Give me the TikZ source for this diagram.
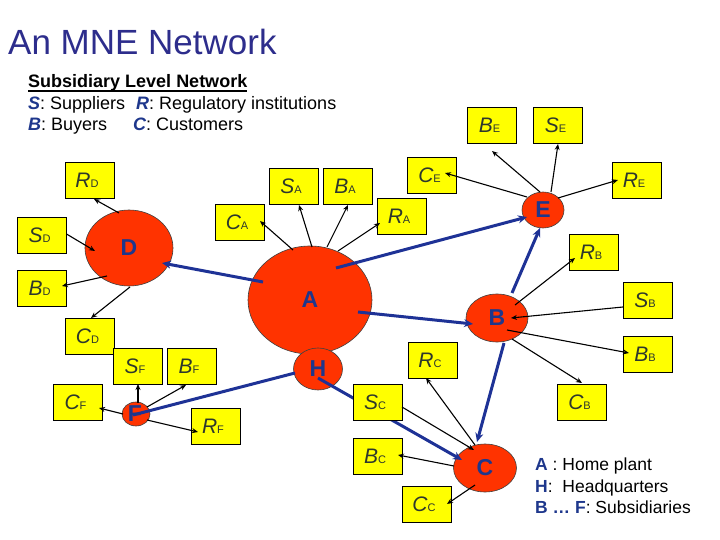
\documentclass[tikz,border=0pt]{standalone}
\usepackage{fontspec}
\setmainfont{Liberation Sans}
\usetikzlibrary{arrows.meta,calc,shapes.geometric}
\definecolor{titleblue}{RGB}{45,45,140}
\definecolor{lblue}{RGB}{30,55,140}
\definecolor{arrblue}{RGB}{30,50,150}
\definecolor{boxyel}{RGB}{255,255,0}
\definecolor{subred}{RGB}{255,51,0}
\definecolor{boxtxt}{RGB}{45,55,45}
\newcommand{\bxl}[2]{{\fontsize{21}{21}\selectfont\itshape #1}{\fontsize{11}{11}\selectfont #2}\kern5pt}
\tikzset{
  lbox/.style={draw=black, line width=0.8pt, fill=boxyel, minimum width=49pt, minimum height=36pt, inner sep=0pt, text=boxtxt},
  subs/.style={ellipse, draw=black!75, line width=0.6pt, fill=subred, inner sep=0pt, font=\fontsize{23}{23}\selectfont\bfseries, text=lblue},
  subtxt/.style={inner sep=0pt, font=\fontsize{23}{23}\selectfont\bfseries, text=lblue},
  blk/.style={draw=black, line width=1.1pt, -{Stealth[length=6pt,width=5pt]}},
  blu/.style={draw=arrblue, line width=3pt, -{Stealth[length=9pt,width=8pt]}},
  bluline/.style={draw=arrblue, line width=3pt},
  txt/.style={anchor=base west, inner sep=0pt, font=\fontsize{18}{18}\selectfont},
  lgd/.style={anchor=base west, inner sep=0pt, font=\fontsize{17.5}{18}\selectfont}
}
\begin{document}
\begin{tikzpicture}[x=1pt,y=-1pt]
\useasboundingbox (0,0) rectangle (720,540);
% title and header
\node[anchor=base west, inner sep=0pt, font=\fontsize{35}{35}\selectfont, text=titleblue] (title) at (8,55) {An MNE Network};
\node[txt, font=\fontsize{18}{18}\selectfont\bfseries] (st1) at (28,88) {Subsidiary Level Network};
\draw[line width=1.2pt] ($(st1.base west)+(0,3)$) -- ($(st1.base east)+(0,3)$);
\node[txt] (s2a) at (28,110) {\textcolor{lblue}{\bfseries\itshape S}: Suppliers};
\node[txt] (s2b) at (136,110) {\textcolor{lblue}{\bfseries\itshape R}: Regulatory institutions};
\node[txt] (s3a) at (28,131) {\textcolor{lblue}{\bfseries\itshape B}: Buyers};
\node[txt] (s3b) at (133,131) {\textcolor{lblue}{\bfseries\itshape C}: Customers};
% legend
\node[lgd] (lg1) at (535,470) {\textcolor{lblue}{\bfseries A} : Home plant};
\node[lgd] (lg2) at (535,492) {\textcolor{lblue}{\bfseries H}:\ \ Headquarters};
\node[lgd] (lg3) at (535,513) {\textcolor{lblue}{\bfseries B … F}: Subsidiaries};
% subsidiaries
\node[subs, minimum width=124pt, minimum height=108pt] (A) at (310,300) {A};
\node[subs, minimum width=49pt, minimum height=42pt] (H) at (318,369) {};
\node[subs, minimum width=88pt, minimum height=76pt] (D) at (129,248) {D};
\node[subs, minimum width=42pt, minimum height=36pt] (E) at (543,210) {E};
\node[subs, minimum width=62pt, minimum height=48pt] (B) at (497,318) {B};
\node[subs, minimum width=63pt, minimum height=48pt] (C) at (485,468) {C};
\node[subs, minimum width=28pt, minimum height=24pt] (F) at (136,414) {};
% blue links
\draw[blu] ($(A)+(-47,-18)$) -- ($(D)+(33,15)$);
\draw[blu] ($(A)+(26,-32)$) -- ($(E)+(-16,7)$);
\draw[blu] ($(A)+(48,12)$) -- ($(B)+(-24,6)$);
\draw[blu] ($(B)+(15,-25)$) -- ($(E)+(-3,18)$);
\draw[blu] ($(B)+(7,25)$) -- ($(C)+(-8,-26)$);
\draw[bluline] ($(H)+(-23,4)$) -- ($(F)+(-3,1)$);
\draw[blu] ($(H)+(0,9)$) -- ($(C)+(-23,-8)$);
\node[subtxt] (Htxt) at (318,369) {H};
\node[subtxt] (Ftxt) at (135,414) {F};
% boxes
\node[lbox] (RD) at (89.5,180) {\bxl{R}{D}};
\node[lbox] (SD) at (42,235) {\bxl{S}{D}};
\node[lbox] (BD) at (42,288.5) {\bxl{B}{D}};
\node[lbox] (CD) at (90,336) {\bxl{C}{D}};
\node[lbox] (SF) at (137.5,366) {\bxl{S}{F}};
\node[lbox] (BF) at (191.5,366) {\bxl{B}{F}};
\node[lbox] (CF) at (78,402) {\bxl{C}{F}};
\node[lbox] (RF) at (215.5,426) {\bxl{R}{F}};
\node[lbox] (CA) at (239.5,222) {\bxl{C}{A}};
\node[lbox] (SA) at (293.5,186) {\bxl{S}{A}};
\node[lbox] (BA) at (347.5,186) {\bxl{B}{A}};
\node[lbox] (RA) at (401.5,216) {\bxl{R}{A}};
\node[lbox] (CE) at (432,175) {\bxl{C}{E}};
\node[lbox] (BE) at (492,125) {\bxl{B}{E}};
\node[lbox] (SE) at (558,125) {\bxl{S}{E}};
\node[lbox] (RE) at (636.5,180) {\bxl{R}{E}};
\node[lbox] (RB) at (593.5,252) {\bxl{R}{B}};
\node[lbox] (SB) at (647.5,300) {\bxl{S}{B}};
\node[lbox] (BB) at (647.5,354.5) {\bxl{B}{B}};
\node[lbox] (CB) at (582,402) {\bxl{C}{B}};
\node[lbox] (RC) at (432.5,360) {\bxl{R}{C}};
\node[lbox] (SC) at (377.5,402) {\bxl{S}{C}};
\node[lbox] (BC) at (377.5,456) {\bxl{B}{C}};
\node[lbox] (CC) at (426.5,504) {\bxl{C}{C}};
% black links
\draw[blk] ($(D)+(-10,-35)$) -- ($(RD)+(4.5,19)$);
\draw[blk] ($(SD)+(24.5,-1)$) -- ($(D)+(-34,3)$);
\draw[blk] ($(D)+(-22,28)$) -- ($(BD)+(20,-2.5)$);
\draw[blk] ($(D)+(1,39)$) -- ($(CD)+(1,-18)$);
\draw[blk] ($(A)+(-17,-50)$) -- ($(CA)+(20.5,-1)$);
\draw[blk] ($(A)+(2,-53)$) -- ($(SA)+(5.5,19)$);
\draw[blk] ($(A)+(17,-53)$) -- ($(BA)+(0.5,19)$);
\draw[blk] ($(A)+(28,-49)$) -- ($(RA)+(-21.5,7)$);
\draw[blk] ($(E)+(-16,-13)$) -- ($(CE)+(13,-2)$);
\draw[blk] ($(E)+(-3,-18)$) -- ($(BE)+(0,26)$);
\draw[blk] ($(E)+(8,-18)$) -- ($(SE)+(0,19)$);
\draw[blk] ($(E)+(15,-12)$) -- ($(RE)+(-18.5,0)$);
\draw[blk] ($(B)+(18,-13)$) -- ($(RB)+(-18.5,6)$);
\draw[blk] ($(SB)+(-24.5,7)$) -- ($(B)+(14,0)$);
\draw[blk] ($(B)+(10,12)$) -- ($(BB)+(-18.5,-1.5)$);
\draw[blk] ($(B)+(15,21)$) -- ($(CB)+(0,-19)$);
\draw[blk] ($(C)+(-10,-23)$) -- ($(RC)+(-6.5,18)$);
\draw[blk] ($(SC)+(24.5,5)$) -- ($(C)+(-11,-18)$);
\draw[blk] ($(C)+(-31,-2)$) -- ($(BC)+(20.5,-1)$);
\draw[blk] ($(C)+(-10,17)$) -- ($(CC)+(20.5,0)$);
\draw[blk] ($(F)+(2,-11)$) -- ($(SF)+(0.5,18)$);
\draw[blk] ($(F)+(11,-7)$) -- ($(BF)+(-5.5,19)$);
\draw[blk] ($(F)+(-13,0)$) -- ($(CF)+(21,6)$);
\draw[blk] ($(F)+(11,6)$) -- ($(RF)+(-17.5,6)$);
\end{tikzpicture}
\end{document}
